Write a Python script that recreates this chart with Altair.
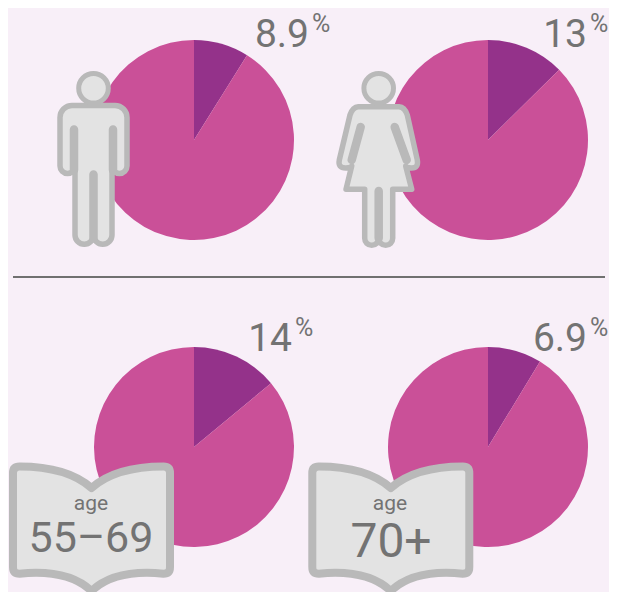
import altair as alt
import pandas as pd

# ---- values ----
pie_names = ["men", "women", "age55", "age70"]
pie_x = [194, 488, 194, 488]
pie_y = [140, 140, 447, 447]
slice_share = [8.9, 12.6, 14.0, 8.7]
number_text = ["8.9", "13", "14", "6.9"]
number_x = [309, 587, 292, 587]
number_y = [47, 47, 351, 351]
pct_x = [312, 590, 295, 590]
pct_y = [32, 32, 336, 336]
age_x = [91, 390]
BG, DARK, PINK = "#F8EFF8", "#94328A", "#CA5098"
GRAY, FILL, TXT = "#B9B9B9", "#E3E3E3", "#737373"

# ---- icon outlines, in local pixels around the icon anchor ----
HEAD = "M-14.8,-71.7A14.8,14.8 0 1 0 14.8,-71.7A14.8,14.8 0 1 0 -14.8,-71.7Z"
MAN = ("M-21.5,-54.5H21.5A12,12 0 0 1 33.5,-42.5V6A7.5,7.5 0 0 1 18.5,6V75"
       "A9.25,9.25 0 0 1 0,75A9.25,9.25 0 0 1 -18.5,75V6A7.5,7.5 0 0 1 -33.5,6"
       "V-42.5A12,12 0 0 1 -21.5,-54.5Z")
MAN_SLITS = "M-19.5,-30.5V10M19.5,-30.5V10M0,14.5V78"
WOMAN = ("M-20.4,-53.3H20.3Q26,-53 28.6,-45L38.6,0Q40,8 33,8Q28,8 27,6L33,29.3H14V78.3"
         "A7,7 0 0 1 0,78.3A7,7 0 0 1 -14,78.3V29.3H-32.7L-27,6Q-28,8 -33,8Q-41,8 -39.4,0"
         "L-28.7,-45Q-26,-53 -20.4,-53.3Z")
WOMAN_SLITS = "M-18,-33L-27,0M16,-33L28,0M0,31V78"
BOOK = ("M0,-32C-18,-48 -45,-53.5 -72,-53.5Q-78.5,-53.5 -78.5,-47V47Q-78.5,53.7 -72,53.7"
        "C-45,51 -18,54 0,71C18,54 45,51 72,53.7Q78.5,53.7 78.5,47V-47Q78.5,-53.5 72,-53.5"
        "C45,-53.5 18,-48 0,-32Z")

W, H = 601, 584
sx = alt.Scale(domain=[8, 609], range=[0, W], nice=False, zero=False)
sy = alt.Scale(domain=[8, 592], range=[0, H], nice=False, zero=False)
sth = alt.Scale(domain=[0, 100], range=[0, 6.28318530718])
X = lambda f: alt.X(f, type="quantitative", scale=sx, axis=None)
Y = lambda f: alt.Y(f, type="quantitative", scale=sy, axis=None)

# pies
rows = []
for n, x, y, s in zip(pie_names, pie_x, pie_y, slice_share):
    rows.append(dict(pie=n, x=x, y=y, a=0, b=s, part="slice"))
    rows.append(dict(pie=n, x=x, y=y, a=s, b=100, part="rest"))
pies = (
    alt.Chart(pd.DataFrame(rows))
    .mark_arc(radius=100)
    .encode(
        x=X("x"), y=Y("y"),
        theta=alt.Theta("a:Q", scale=sth),
        theta2=alt.Theta2("b:Q"),
        color=alt.Color("part:N", scale=alt.Scale(domain=["slice", "rest"], range=[DARK, PINK]), legend=None),
    )
)

# divider
divider = (
    alt.Chart(pd.DataFrame({"x": [13], "x2": [605], "y": [277]}))
    .mark_rule(color="#707070", strokeWidth=2)
    .encode(x=X("x"), x2="x2:Q", y=Y("y"))
)


def icon(x, y, path, **kw):
    return (
        alt.Chart(pd.DataFrame({"x": [x], "y": [y]}))
        .mark_point(shape=path, size=4, opacity=1, strokeJoin="round", strokeCap="round", **kw)
        .encode(x=X("x"), y=Y("y"))
    )


def person(x, body, slits):
    return (
        icon(x, 160, body, filled=True, fill=FILL, stroke=GRAY, strokeWidth=5.5)
        + icon(x, 160, slits, filled=False, stroke=GRAY, strokeWidth=8.5)
        + icon(x, 160, HEAD, filled=True, fill=FILL, stroke=GRAY, strokeWidth=5)
    )


icons = person(93.5, MAN, MAN_SLITS) + person(378.7, WOMAN, WOMAN_SLITS)
books = icon(91.5, 520, BOOK, filled=True, fill=FILL, stroke=GRAY, strokeWidth=8) + icon(
    390.8, 520, BOOK, filled=True, fill=FILL, stroke=GRAY, strokeWidth=8
)

FONT = "Roboto"
numbers = (
    alt.Chart(pd.DataFrame({"x": number_x, "y": number_y, "t": number_text}))
    .mark_text(font=FONT, fontSize=39, color=TXT, align="right", baseline="alphabetic")
    .encode(x=X("x"), y=Y("y"), text="t:N")
)
pcts = (
    alt.Chart(pd.DataFrame({"x": pct_x, "y": pct_y, "t": ["%"] * 4}))
    .mark_text(font=FONT, fontSize=25, color=TXT, align="left", baseline="alphabetic")
    .encode(x=X("x"), y=Y("y"), text="t:N")
)
age_word = (
    alt.Chart(pd.DataFrame({"x": age_x, "y": [510, 510], "t": ["age", "age"]}))
    .mark_text(font=FONT, fontSize=21, color=TXT, align="center", baseline="alphabetic")
    .encode(x=X("x"), y=Y("y"), text="t:N")
)


def age_label(x, y, text, size):
    return (
        alt.Chart(pd.DataFrame({"x": [x], "y": [y], "t": [text]}))
        .mark_text(font=FONT, fontSize=size, color=TXT, align="center", baseline="alphabetic")
        .encode(x=X("x"), y=Y("y"), text="t:N")
    )


age_range = age_label(91, 552, "55–69", 43) + age_label(391, 557, "70+", 48)

chart = (
    alt.layer(pies, divider, icons, books, numbers, pcts, age_word, age_range)
    .properties(
        width=W, height=H, padding=0, background=BG,
        autosize=alt.AutoSizeParams(type="none"),
    )
    .configure_view(stroke=None)
)

chart.save("out.html", embed_options={"renderer": "svg", "actions": False})
